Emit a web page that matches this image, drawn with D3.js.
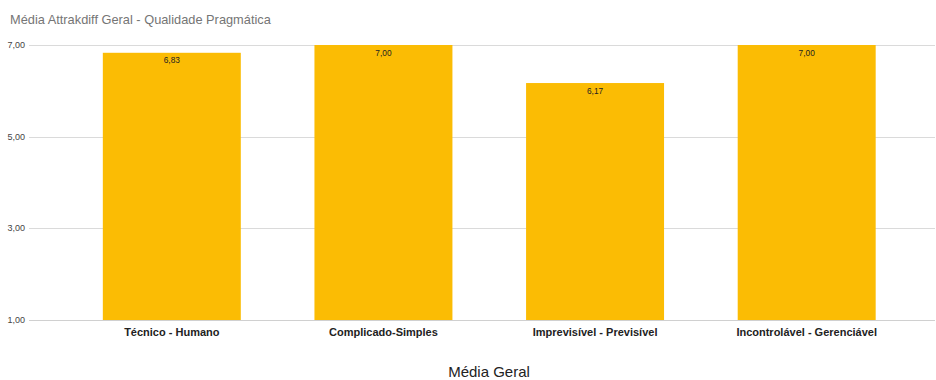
<!DOCTYPE html>
<html>
<head>
<meta charset="utf-8">
<script src="https://cdn.jsdelivr.net/npm/d3@7"></script>
<style>
  html, body { margin: 0; padding: 0; background: #fff; }
  svg { display: block; font-family: "Liberation Sans", Arial, sans-serif; }
</style>
</head>
<body>
<svg id="chart" width="936" height="380"></svg>
<script>
// Attrakdiff averages — pragmatic quality word pairs
const categories = ["Técnico - Humano", "Complicado-Simples", "Imprevisível - Previsível", "Incontrolável - Gerenciável"];
const values = [6.83, 7.00, 6.17, 7.00];
const yTicks = [1, 3, 5, 7];
const title = "Média Attrakdiff Geral - Qualidade Pragmática";
const axisTitle = "Média Geral";

const fmt = v => d3.format(".2f")(v).replace(".", ",");

const svg = d3.select("#chart");
const gridLeft = 29, gridRight = 935;

const x = d3.scaleBand()
  .domain(categories)
  .range([66, 912.5])
  .paddingInner(0.348)
  .paddingOuter(0.174);

const y = d3.scaleLinear().domain([1, 7]).range([320, 45]);

// title
svg.append("text")
  .attr("x", 10).attr("y", 24)
  .attr("font-size", 12.8)
  .attr("fill", "#757575")
  .text(title);

// gridlines
svg.append("g").selectAll("line")
  .data(yTicks)
  .join("line")
  .attr("x1", gridLeft).attr("x2", gridRight)
  .attr("y1", d => Math.round(y(d)) + 0.5).attr("y2", d => Math.round(y(d)) + 0.5)
  .attr("stroke", d => d === 1 ? "#d0d0d0" : "#dadada")
  .attr("stroke-width", 1);

// y tick labels
svg.append("g").selectAll("text")
  .data(yTicks)
  .join("text")
  .attr("x", 25).attr("y", d => y(d) + 3)
  .attr("text-anchor", "end")
  .attr("font-size", 9)
  .attr("fill", "#444")
  .text(fmt);

// bars
svg.append("g").selectAll("rect")
  .data(categories)
  .join("rect")
  .attr("x", d => x(d))
  .attr("width", x.bandwidth())
  .attr("y", (d, i) => y(values[i]))
  .attr("height", (d, i) => y(1) - y(values[i]))
  .attr("fill", "#FBBC04");

// value labels inside bar tops
svg.append("g").selectAll("text")
  .data(categories)
  .join("text")
  .attr("x", d => x(d) + x.bandwidth() / 2)
  .attr("y", (d, i) => y(values[i]) + 10.5)
  .attr("text-anchor", "middle")
  .attr("font-size", 8.3)
  .attr("fill", "#222")
  .text((d, i) => fmt(values[i]));

// x axis category labels
svg.append("g").selectAll("text")
  .data(categories)
  .join("text")
  .attr("x", d => x(d) + x.bandwidth() / 2)
  .attr("y", 336)
  .attr("text-anchor", "middle")
  .attr("font-size", 11)
  .attr("font-weight", "bold")
  .attr("fill", "#222")
  .text(d => d);

// x axis title
svg.append("text")
  .attr("x", 489).attr("y", 377)
  .attr("text-anchor", "middle")
  .attr("font-size", 15)
  .attr("fill", "#222")
  .text(axisTitle);
</script>
</body>
</html>
